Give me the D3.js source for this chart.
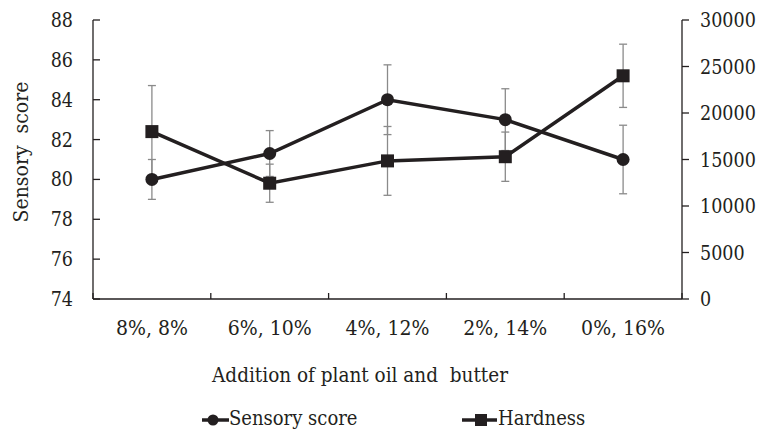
<!DOCTYPE html>
<html>
<head>
  <meta charset="utf-8">
  <script src="https://cdn.jsdelivr.net/npm/d3@7"></script>
  <style>
    body { margin: 0; background: #fff; }
  </style>
</head>
<body>
  <svg width="761" height="431" font-family="'DejaVu Serif Condensed', 'DejaVu Serif', serif"></svg>
<script>

// data
const categories = ['8%, 8%', '6%, 10%', '4%, 12%', '2%, 14%', '0%, 16%'];
const sensory    = [80, 81.3, 84, 83, 81];
const sensoryErr = [1.0, 1.15, 1.75, 1.55, 1.72];
const hardness    = [18000, 12450, 14850, 15300, 24000];
const hardnessErr = [4950, 2050, 3700, 2650, 3400];
const leftTicks  = [74, 76, 78, 80, 82, 84, 86, 88];
const rightTicks = [0, 5000, 10000, 15000, 20000, 25000, 30000];

const ink = '#231f20';
const errCol = '#8a8a8a';

const svg = d3.select('svg');
const pl = 93, pr = 682, pt = 20, pb = 299;

let x = d3.scaleBand().domain(categories).range([pl, pr]);
let yL = d3.scaleLinear().domain([74, 88]).range([pb, pt]);
let yR = d3.scaleLinear().domain([0, 30000]).range([pb, pt]);

// axes
let gx = svg.append('g').attr('transform', 'translate(0,' + pb + ')');
gx.append('line').attr('x1', pl).attr('x2', pr).attr('stroke', ink).attr('stroke-width', 1.3);
let bounds = categories.map(c => x(c)).concat([pr]);
bounds.forEach(b => {
  gx.append('line').attr('x1', b).attr('x2', b).attr('y1', 0).attr('y2', -6)
    .attr('stroke', ink).attr('stroke-width', 1.3);
});
categories.forEach(c => {
  gx.append('text').attr('x', x(c) + x.bandwidth() / 2).attr('y', 36).attr('fill', ink)
    .attr('text-anchor', 'middle').style('font-size', '21px').text(c);
});

let gl = svg.append('g');
gl.append('line').attr('x1', pl).attr('x2', pl).attr('y1', pt).attr('y2', pb)
  .attr('stroke', ink).attr('stroke-width', 1.3);
leftTicks.forEach(t => {
  gl.append('line').attr('x1', pl).attr('x2', pl + 7).attr('y1', yL(t)).attr('y2', yL(t))
    .attr('stroke', ink).attr('stroke-width', 1.3);
  gl.append('text').attr('x', 73).attr('y', yL(t)).attr('dy', '0.36em').attr('fill', ink)
    .attr('text-anchor', 'end').style('font-size', '19.5px').text(t);
});

let gr = svg.append('g');
gr.append('line').attr('x1', pr).attr('x2', pr).attr('y1', pt).attr('y2', pb)
  .attr('stroke', ink).attr('stroke-width', 1.3);
rightTicks.forEach(t => {
  gr.append('line').attr('x1', pr).attr('x2', pr + 7).attr('y1', yR(t)).attr('y2', yR(t))
    .attr('stroke', ink).attr('stroke-width', 1.3);
  gr.append('text').attr('x', 700).attr('y', yR(t)).attr('dy', '0.36em').attr('fill', ink)
    .attr('text-anchor', 'start').style('font-size', '19.5px').text(t);
});

// axis titles
svg.append('text').attr('transform', 'translate(28,152) rotate(-90)').attr('fill', ink)
  .attr('text-anchor', 'middle').style('font-size', '21px').style('white-space', 'pre')
  .text('Sensory  score');
svg.append('text').attr('x', 360).attr('y', 382).attr('text-anchor', 'middle').attr('fill', ink)
  .style('font-size', '20.5px').style('white-space', 'pre').text('Addition of plant oil and  butter');

let cx = c => x(c) + x.bandwidth() / 2;

// error bars
let drawErr = (vals, errs, y) => {
  vals.forEach((v, i) => {
    let px = cx(categories[i]);
    let y1 = y(v + errs[i]), y2 = y(v - errs[i]);
    svg.append('line').attr('x1', px).attr('x2', px).attr('y1', y1).attr('y2', y2)
      .attr('stroke', errCol).attr('stroke-width', 1.3);
    [y1, y2].forEach(yy => {
      svg.append('line').attr('x1', px - 4).attr('x2', px + 4).attr('y1', yy).attr('y2', yy)
        .attr('stroke', errCol).attr('stroke-width', 1.3);
    });
  });
};
drawErr(sensory, sensoryErr, yL);
drawErr(hardness, hardnessErr, yR);

// lines
let lineL = d3.line().x((d, i) => cx(categories[i])).y(d => yL(d));
let lineR = d3.line().x((d, i) => cx(categories[i])).y(d => yR(d));
svg.append('path').attr('d', lineL(sensory)).attr('fill', 'none').attr('stroke', ink).attr('stroke-width', 3.5);
svg.append('path').attr('d', lineR(hardness)).attr('fill', 'none').attr('stroke', ink).attr('stroke-width', 3.5);

// markers
sensory.forEach((v, i) => {
  svg.append('circle').attr('cx', cx(categories[i])).attr('cy', yL(v)).attr('r', 6.5).attr('fill', ink);
});
hardness.forEach((v, i) => {
  svg.append('rect').attr('x', cx(categories[i]) - 6.5).attr('y', yR(v) - 6.5)
    .attr('width', 13).attr('height', 13).attr('fill', ink);
});

// legend
let lg = svg.append('g').attr('transform', 'translate(0,420)');
lg.append('line').attr('x1', 202).attr('x2', 229).attr('stroke', ink).attr('stroke-width', 3.5);
lg.append('circle').attr('cx', 213).attr('cy', 0).attr('r', 5.5).attr('fill', ink);
lg.append('text').attr('x', 229).attr('y', 5).attr('fill', ink).style('font-size', '20px').text('Sensory score');
lg.append('line').attr('x1', 462).attr('x2', 497).attr('stroke', ink).attr('stroke-width', 3.5);
lg.append('rect').attr('x', 475).attr('y', -6).attr('width', 12).attr('height', 12).attr('fill', ink);
lg.append('text').attr('x', 498).attr('y', 5).attr('fill', ink).style('font-size', '20px').text('Hardness');

</script>
</body>
</html>
